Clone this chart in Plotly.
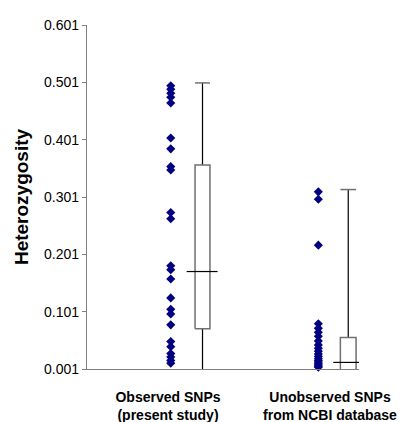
import plotly.graph_objects as go

# ---- data ----
categories = ["Observed SNPs<br>(present study)", "Unobserved SNPs<br>from NCBI database"]
observed = [0.495, 0.489, 0.482, 0.475, 0.465, 0.404, 0.385, 0.354, 0.348, 0.274, 0.263,
            0.181, 0.174, 0.158, 0.125, 0.105, 0.097, 0.078, 0.049, 0.040, 0.028, 0.022,
            0.016, 0.011]
unobserved = [0.310, 0.297, 0.217, 0.080, 0.072, 0.065, 0.058, 0.050, 0.043, 0.037, 0.032,
              0.027, 0.023, 0.019, 0.016, 0.013, 0.010, 0.008, 0.006, 0.004]
# box statistics: lower whisker, q1, median, q3, upper whisker
box_lower = [0.001, -0.002]
box_q1 = [0.071, -0.002]
box_median = [0.171, 0.0125]
box_q3 = [0.357, 0.056]
box_upper = [0.500, 0.314]
y_ticks = [0.001, 0.101, 0.201, 0.301, 0.401, 0.501, 0.601]

# ---- positions / styles ----
centers = [0.5, 1.5]
pt_off = [0.017, -0.072]
box_l = [0.167, 0.064]
box_r = [0.259, 0.161]
med_l = [0.115, 0.020]
med_r = [0.306, 0.210]
NAVY = "#000080"
BOXC = "#707070"

fig = go.Figure()

for i, vals in enumerate([observed, unobserved]):
    fig.add_trace(go.Scatter(
        x=[centers[i] + pt_off[i]] * len(vals), y=vals, mode="markers",
        marker=dict(symbol="diamond", size=7, color=NAVY),
        showlegend=False, hoverinfo="y", cliponaxis=False))

for i in range(2):
    c = centers[i]
    x0, x1 = c + box_l[i], c + box_r[i]
    xw = (x0 + x1) / 2
    # whiskers
    fig.add_trace(go.Scatter(x=[xw, xw], y=[box_q3[i], box_upper[i]], mode="lines",
                             line=dict(color="black", width=1.2), showlegend=False,
                             hoverinfo="skip", cliponaxis=False))
    if box_lower[i] < box_q1[i]:
        fig.add_trace(go.Scatter(x=[xw, xw], y=[box_lower[i], box_q1[i]], mode="lines",
                                 line=dict(color="black", width=1.2), showlegend=False,
                                 hoverinfo="skip", cliponaxis=False))
    # cap
    fig.add_trace(go.Scatter(x=[x0, x1], y=[box_upper[i], box_upper[i]], mode="lines",
                             line=dict(color=BOXC, width=1.5), showlegend=False,
                             hoverinfo="skip", cliponaxis=False))
    # box
    fig.add_trace(go.Scatter(x=[x0, x1, x1, x0, x0],
                             y=[box_q1[i], box_q1[i], box_q3[i], box_q3[i], box_q1[i]],
                             mode="lines", line=dict(color=BOXC, width=1.5),
                             fill="toself", fillcolor="white",
                             showlegend=False, hoverinfo="skip", cliponaxis=False))
    # median
    fig.add_trace(go.Scatter(x=[c + med_l[i], c + med_r[i]], y=[box_median[i], box_median[i]],
                             mode="lines", line=dict(color="black", width=1.2),
                             showlegend=False, hoverinfo="skip", cliponaxis=False))

fig.update_layout(
    width=405, height=422,
    margin=dict(l=87, r=46, t=25, b=53),
    paper_bgcolor="white", plot_bgcolor="white",
    font=dict(family="Liberation Sans, Arial, sans-serif", color="black"),
    xaxis=dict(range=[0, 1.679], showgrid=False, zeroline=False, automargin=False,
               showline=True, linecolor="#808080", linewidth=1.2,
               tickmode="array", tickvals=centers, ticktext=categories,
               ticks="", tickfont=dict(size=14, family="Liberation Sans, Arial", weight="bold"),
               ticklabelstandoff=15),
    yaxis=dict(range=[0.001, 0.601], showgrid=False, zeroline=False, automargin=False,
               showline=True, linecolor="#808080", linewidth=1.2,
               tickmode="array", tickvals=y_ticks,
               ticktext=[f"{v:.3f}" for v in y_ticks],
               ticks="outside", ticklen=4, tickcolor="#808080",
               tickfont=dict(size=14),
               title=dict(text="<b>Heterozygosity</b>", font=dict(size=19), standoff=10)),
)

fig.write_html("out.html", config={"displayModeBar": False},
               post_script="document.body.style.margin='0';")
